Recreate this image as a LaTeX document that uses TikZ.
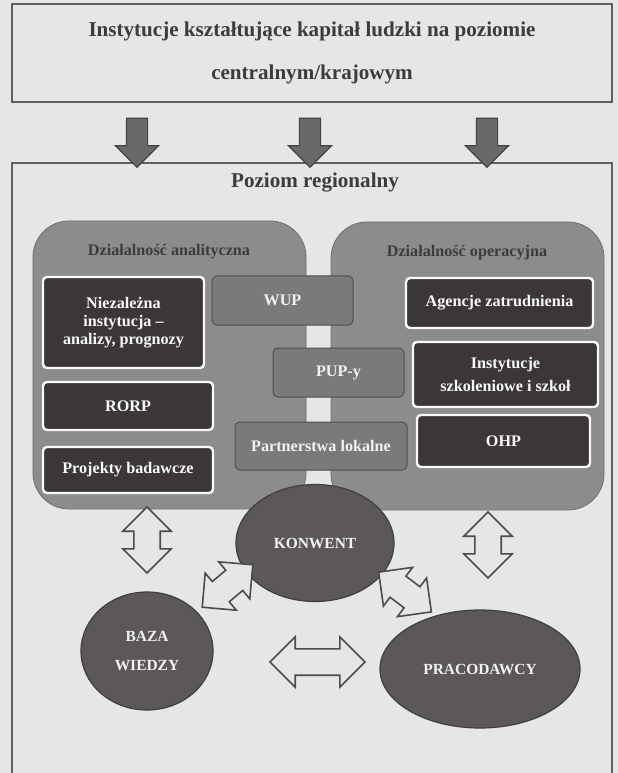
\documentclass[tikz,border=0pt]{standalone}
\usepackage{fontspec}
\setmainfont{Liberation Serif}
\usetikzlibrary{shapes.geometric, shapes.arrows, positioning}
\definecolor{paper}{RGB}{228, 230, 231}
\definecolor{rimgray}{RGB}{95, 95, 95}
\definecolor{groupgray}{RGB}{140, 140, 140}
\definecolor{boxdark}{RGB}{60, 55, 55}
\definecolor{boxmid}{RGB}{122, 122, 122}
\definecolor{ovalgray}{RGB}{92, 88, 88}
\definecolor{arrowgray}{RGB}{105, 105, 105}
\definecolor{inktext}{RGB}{60, 60, 60}

\begin{document}
\begin{tikzpicture}[x=0.25mm, y=-0.25mm,
    rimline/.style={draw=rimgray, line width=0.4mm},
    bigtext/.style={font=\fontsize{15}{30.5}\selectfont\bfseries, text=inktext, align=center},
    actgroup/.style={rectangle, rounded corners=9mm, fill=groupgray, draw=groupgray!80!black,
                  line width=0.2mm, minimum width=68.25mm, minimum height=72mm},
    grouptitle/.style={font=\fontsize{11.5}{13}\selectfont\bfseries, text=inktext},
    darkbox/.style={rectangle, rounded corners=1mm, fill=boxdark, draw=white!95!gray,
                  line width=0.6mm, text=white!95!gray, align=center,
                  font=\fontsize{11.5}{13}\selectfont\bfseries},
    midbox/.style={rectangle, rounded corners=1.2mm, fill=boxmid, draw=boxmid!65!black,
                  line width=0.25mm, text=white!90!gray, align=center,
                  font=\fontsize{11.5}{13}\selectfont\bfseries},
    oval/.style={ellipse, fill=ovalgray, draw=ovalgray!70!black, line width=0.3mm, inner sep=0pt,
                  text=white!90!gray, align=center, font=\fontsize{11}{20}\selectfont\bfseries},
    downarrow/.style={single arrow, rotate=-90, fill=arrowgray, draw=arrowgray!65!black,
                  line width=0.3mm, inner sep=2.5mm, minimum height=12.25mm, minimum width=10.75mm,
                  single arrow head extend=2.75mm, single arrow head indent=0pt},
    linkarrow/.style={double arrow, fill=paper, draw=black!70, line width=0.4mm,
                  inner sep=3.1mm, minimum width=11.75mm, minimum height=16.5mm,
                  double arrow head extend=2.75mm, double arrow head indent=0pt}]

    % Page
    \fill[paper] (0,0) rectangle (618,773);
    \useasboundingbox (0,0) rectangle (618,773);

    % Central level
    \node[rimline, bigtext, rectangle, minimum width=150mm, minimum height=24.5mm] (central) at (312, 53)
        {Instytucje kształtujące kapitał ludzki na poziomie\\centralnym/krajowym};

    % Regional frame
    \draw[rimline] (12,775) -- (12,163) -- (612,163) -- (612,775);
    \node[bigtext] (regional) at (315, 183) {Poziom regionalny};

    % Arrows from the central level
    \node[downarrow] (down1) at (137, 137.5) {};
    \node[downarrow] (down2) at (310, 137.5) {};
    \node[downarrow] (down3) at (487, 137.5) {};

    % Two areas of activity
    \node[actgroup] (analysis) at (169.5, 365) {};
    \node[actgroup] (operation) at (467.5, 366) {};
    \node[grouptitle] (analysistitle) at (169, 252) {Działalność analityczna};
    \node[grouptitle] (operationtitle) at (467, 253) {Działalność operacyjna};

    % Analytical side
    \node[darkbox, minimum width=40.25mm, minimum height=22.75mm] (independent) at (123.5, 322.5)
        {Niezależna\\instytucja –\\analizy, prognozy};
    \node[darkbox, minimum width=42.5mm, minimum height=12mm] (rorp) at (128, 406) {RORP};
    \node[darkbox, minimum width=42.5mm, minimum height=11.5mm] (projects) at (128, 470) {Projekty badawcze};

    % Shared institutions
    \node[midbox, minimum width=35.25mm, minimum height=12.25mm] (wup) at (282.5, 300.5) {WUP};
    \node[midbox, minimum width=32.75mm, minimum height=12.25mm] (pup) at (338.5, 372.5) {PUP-y};
    \node[midbox, minimum width=43mm, minimum height=12mm] (partners) at (321, 446) {Partnerstwa lokalne};

    % Operational side
    \node[darkbox, minimum width=46.75mm, minimum height=12.5mm] (agencies) at (499.5, 303) {Agencje zatrudnienia};
    \node[darkbox, minimum width=46.25mm, minimum height=16.25mm, font=\fontsize{11.5}{17}\selectfont\bfseries]
        (training) at (505.5, 374.5) {Instytucje\\szkoleniowe i szkoł};
    \node[darkbox, minimum width=43.25mm, minimum height=13mm] (ohp) at (503.5, 441) {OHP};

    % Partners
    \node[oval, minimum width=39.5mm, minimum height=29.25mm] (konwent) at (315, 543) {KONWENT};
    \node[oval, minimum width=33mm, minimum height=29.5mm] (baza) at (147, 651) {BAZA\\WIEDZY};
    \node[oval, minimum width=50mm, minimum height=29.5mm] (employers) at (480, 669) {PRACODAWCY};

    % Two-way links
    \node[linkarrow, rotate=90] (link1) at (147, 540) {};
    \node[linkarrow, rotate=90] (link2) at (488, 545) {};
    \node[linkarrow, rotate=40] (link3) at (227.5, 586) {};
    \node[linkarrow, rotate=-37] (link4) at (405, 592) {};
    \node[linkarrow, minimum height=23.75mm, minimum width=12.25mm, double arrow head extend=3mm] (link5) at (317.5, 662) {};
\end{tikzpicture}
\end{document}
